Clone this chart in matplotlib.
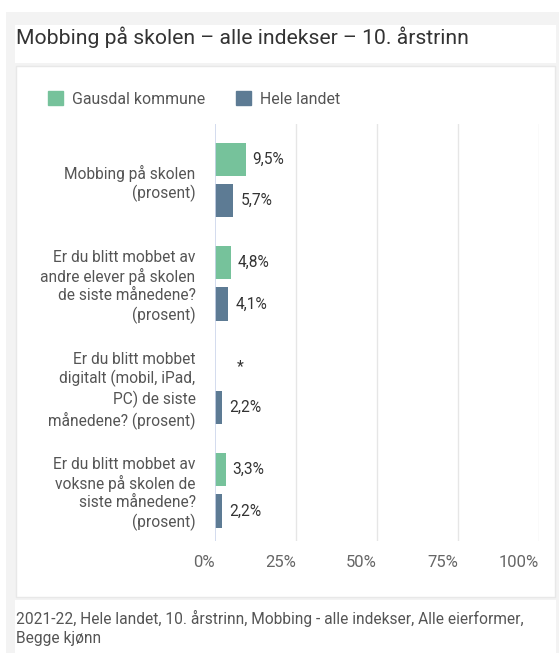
import matplotlib.pyplot as plt
from matplotlib.patches import Rectangle, Patch
from matplotlib.transforms import offset_copy

plt.rcParams['font.family'] = ['Roboto', 'DejaVu Sans']

# data
kategorier = [
    "Mobbing på skolen\n(prosent)",
    "Er du blitt mobbet av\nandre elever på skolen\nde siste månedene?\n(prosent)",
    "Er du blitt mobbet\ndigitalt (mobil, iPad,\nPC) de siste\nmånedene? (prosent)",
    "Er du blitt mobbet av\nvoksne på skolen de\nsiste månedene?\n(prosent)",
]
gausdal = [9.5, 4.8, None, 3.3]
hele_landet = [5.7, 4.1, 2.2, 2.2]
serier = ["Gausdal kommune", "Hele landet"]
x_ticks = [0, 25, 50, 75, 100]

GREEN = "#76c29b"
BLUE = "#5d7b94"
TXT = "#555555"

W, H = 559, 653
fig = plt.figure(figsize=(W / 100, H / 100), dpi=100)
fig.patch.set_facecolor("white")

def box(x0, y0, x1, y1, fc, ec="none", lw=0):
    fig.patches.append(Rectangle((x0 / W, 1 - y1 / H), (x1 - x0) / W, (y1 - y0) / H,
                                 transform=fig.transFigure, facecolor=fc,
                                 edgecolor=ec, linewidth=lw, zorder=-10))

# bakgrunn og paneler
box(6, 12, W, H, "#f3f3f3")
box(15, 25, 556, 63, "white")
box(16, 66, 555, 597, "white", ec="#e8e8e8", lw=1)
box(15, 600, 556, 653, "white")

fig.text(16 / W, 1 - 44 / H, "Mobbing på skolen – alle indekser – 10. årstrinn",
         fontsize=15.2, color="#333333", va="baseline", ha="left")

ax = fig.add_axes([215 / W, 1 - 541 / H, 324 / W, 417 / H])
ax.set_facecolor("none")

pos = list(range(len(kategorier)))
h = 0.32
off = 0.2
g_vals = [v if v is not None else 0 for v in gausdal]
ax.barh([p - off for p in pos], g_vals, height=h, color=GREEN, zorder=3)
ax.barh([p + off for p in pos], hele_landet, height=h, color=BLUE, zorder=3)

FS = 11.2
for p, v in zip(pos, gausdal):
    if v is None:
        ax.annotate("*", (0, p - off), xytext=(18, 0), textcoords="offset points",
                    ha="center", va="center", fontsize=FS, color="#333333")
    else:
        ax.annotate(f"{v:.1f}%".replace(".", ","), (v, p - off), xytext=(5, 0),
                    textcoords="offset points", ha="left", va="center",
                    fontsize=FS, color="#333333")
for p, v in zip(pos, hele_landet):
    ax.annotate(f"{v:.1f}%".replace(".", ","), (v, p + off), xytext=(5, 0),
                textcoords="offset points", ha="left", va="center",
                fontsize=FS, color="#333333")

ax.set_xlim(0, 100)
ax.set_ylim(3.49, -0.54)
ax.set_xticks(x_ticks)
ax.set_xticklabels([f"{t}%" for t in x_ticks], fontsize=12, color="#666666", ha="right")
for lbl in ax.get_xticklabels():
    lbl.set_transform(offset_copy(lbl.get_transform(), fig=fig, x=-2, y=0, units="dots"))
ax.set_yticks(pos)
ax.set_yticklabels(kategorier, fontsize=FS, color=TXT, linespacing=1.25)
ax.tick_params(axis="y", length=0, pad=14)
ax.tick_params(axis="x", length=0, pad=10)
for s in ax.spines.values():
    s.set_visible(False)
for t in x_ticks[1:]:
    ax.axvline(t, color="#e6e6e6", linewidth=1, zorder=1)
ax.axvline(0, color="#ccd6eb", linewidth=1.2, zorder=4)

fig.legend(handles=[Patch(color=GREEN, label=serier[0]), Patch(color=BLUE, label=serier[1])],
           loc="center left", bbox_to_anchor=(48 / W, 1 - 99 / H), ncol=2,
           frameon=False, borderpad=0, borderaxespad=0, handlelength=0.95,
           handleheight=0.95, handletextpad=0.57, columnspacing=1.95,
           fontsize=11.4, labelcolor=TXT)

fig.text(16 / W, 1 - 618 / H,
         "2021-22, Hele landet, 10. årstrinn, Mobbing - alle indekser, Alle eierformer,",
         fontsize=11.2, color="#555555", va="center", ha="left")
fig.text(16 / W, 1 - 639 / H, "Begge kjønn",
         fontsize=11.2, color="#555555", va="center", ha="left")

fig.savefig("out.png", dpi=100)
